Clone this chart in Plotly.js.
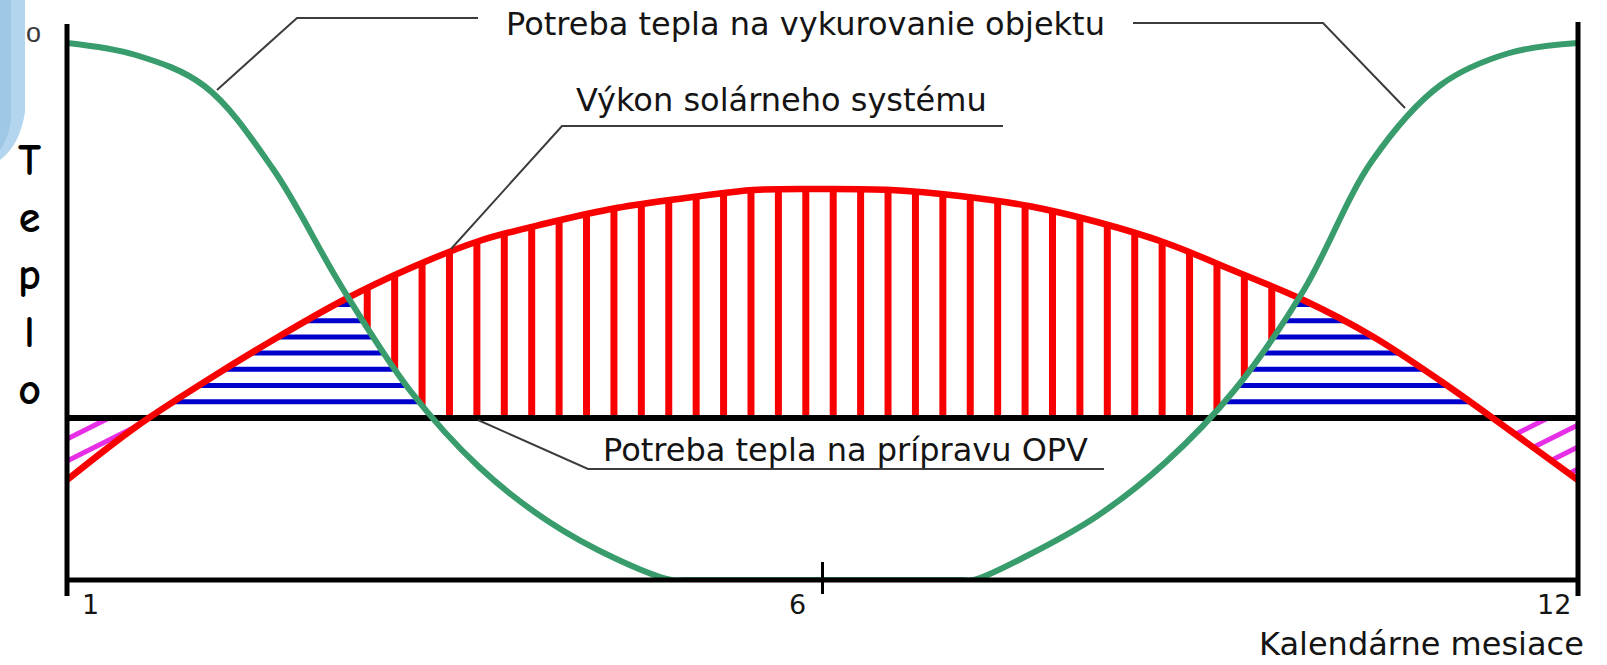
<!DOCTYPE html>
<html>
<head>
<meta charset="utf-8">
<script src="https://cdn.plot.ly/plotly-3.0.1.min.js"></script>
<style>
  html, body { margin: 0; padding: 0; background: #ffffff; }
  #chart { width: 1607px; height: 665px; }
</style>
</head>
<body>
<div id="chart"></div>
<script>
// ---------------- DATA ----------------
const months = [1, 1.5, 2, 2.5, 3, 3.5, 4, 4.5, 5, 5.5, 6, 6.5, 7, 7.5, 8, 8.5, 9, 9.5, 10, 10.5, 11, 11.5, 12];
// Výkon solárneho systému (red)
const solarOutput = [100, 153, 198, 240, 279, 312, 339, 357, 372, 382, 390, 391, 390, 384, 374, 358, 337, 309, 280, 244, 199, 150, 100];
// Potreba tepla na vykurovanie objektu (green)
const heatingMonths = [1, 1.5, 2, 2.5, 3, 3.5, 4, 4.5, 5, 5.4, 5.5, 6, 6.5, 7, 7.5, 7.6, 8, 8.5, 9, 9.5, 10, 10.5, 11, 11.5, 12];
const heatingDemand = [537, 525, 494, 411, 293, 189, 113, 59, 21, 0, 0, 0, 0, 0, 0, 0, 25, 64, 118, 190, 289, 419, 495, 527, 537];
// Potreba tepla na prípravu OPV (black)
const hotWaterMonths = [1, 12];
const hotWaterDemand = [162, 162];
// x-axis ticks
const tickVals = [1, 6.5, 12];
const tickText = ['1', '6', '12'];

// ---------------- GEOMETRY / STYLE ----------------
const W = 1607, H = 665;
const M = { l: 67, r: 29, t: 23, b: 85 };
const PW = W - M.l - M.r;
const PH = H - M.t - M.b;
const X_RANGE = [1, 12];
const Y_RANGE = [0, 557];
const xPix = m => M.l + (m - X_RANGE[0]) / (X_RANGE[1] - X_RANGE[0]) * PW;
const yPix = v => M.t + PH - (v - Y_RANGE[0]) / (Y_RANGE[1] - Y_RANGE[0]) * PH;
const xData = px => X_RANGE[0] + (px - M.l) / PW * (X_RANGE[1] - X_RANGE[0]);
const yData = py => Y_RANGE[0] + (M.t + PH - py) / PH * (Y_RANGE[1] - Y_RANGE[0]);
const xPaper = px => (px - M.l) / PW;
const yPaper = py => (M.t + PH - py) / PH;

const COL = { green: '#389c6c', red: '#f80000', blue: '#0000cc', magenta: '#e62ee6', black: '#000000', text: '#141414', leader: '#3c3c3c' };
const HATCH = { vStep: 27.41, vPhase: 531.7, hStep: 16.2, hPhase: 401.7, dStep: 22, dSlope: 0.5, dLeft: [67, 439], dRight: [1578, 425] };
const tickShift = [23, -25, -24];

// --- reproduce Plotly's spline (centripetal Catmull-Rom, smoothing 1) in pixel space,
//     so that hatch lines end exactly on the drawn curves
function makeTangent(p0, p1, p2, s) {
  const d1x = p0[0] - p1[0], d1y = p0[1] - p1[1], d2x = p2[0] - p1[0], d2y = p2[1] - p1[1];
  const d1a = Math.pow(d1x * d1x + d1y * d1y, 0.25), d2a = Math.pow(d2x * d2x + d2y * d2y, 0.25);
  const nx = (d2a * d2a * d1x - d1a * d1a * d2x) * s, ny = (d2a * d2a * d1y - d1a * d1a * d2y) * s;
  const den1 = 3 * d2a * (d1a + d2a), den2 = 3 * d1a * (d1a + d2a);
  return [[p1[0] + (den1 ? nx / den1 : 0), p1[1] + (den1 ? ny / den1 : 0)],
          [p1[0] - (den2 ? nx / den2 : 0), p1[1] - (den2 ? ny / den2 : 0)]];
}
function bez(seg, t) {
  const u = 1 - t;
  if (seg.length === 3) {
    const [a, c, b] = seg;
    return [u * u * a[0] + 2 * u * t * c[0] + t * t * b[0], u * u * a[1] + 2 * u * t * c[1] + t * t * b[1]];
  }
  const [a, c1, c2, b] = seg;
  return [u * u * u * a[0] + 3 * u * u * t * c1[0] + 3 * u * t * t * c2[0] + t * t * t * b[0],
          u * u * u * a[1] + 3 * u * u * t * c1[1] + 3 * u * t * t * c2[1] + t * t * t * b[1]];
}
function splineSamples(xs, ys) {
  const p = xs.map((x, i) => [xPix(x), yPix(ys[i])]);
  const n = p.length, tan = [];
  for (let i = 1; i < n - 1; i++) tan.push(makeTangent(p[i - 1], p[i], p[i + 1], 1));
  const segs = [[p[0], tan[0][0], p[1]]];
  for (let i = 2; i < n - 1; i++) segs.push([p[i - 1], tan[i - 2][1], tan[i - 1][0], p[i]]);
  segs.push([p[n - 2], tan[n - 3][1], p[n - 1]]);
  const out = [];
  segs.forEach(s => { for (let k = 0; k <= 60; k++) out.push(bez(s, k / 60)); });
  out.sort((a, b) => a[0] - b[0]);
  return out;
}
function yAt(S, px) {
  if (px <= S[0][0]) return S[0][1];
  if (px >= S[S.length - 1][0]) return S[S.length - 1][1];
  let lo = 0, hi = S.length - 1;
  while (hi - lo > 1) { const mid = (lo + hi) >> 1; if (S[mid][0] <= px) lo = mid; else hi = mid; }
  const a = S[lo], b = S[hi];
  return b[0] === a[0] ? a[1] : a[1] + (b[1] - a[1]) * (px - a[0]) / (b[0] - a[0]);
}
function runs(x0, x1, step, test) {
  const out = []; let start = null, prev = null;
  for (let px = x0; px <= x1 + 1e-9; px += step) {
    const ok = test(px);
    if (ok && start === null) start = px;
    if (!ok && start !== null) { out.push([start, prev]); start = null; }
    prev = px;
  }
  if (start !== null) out.push([start, prev]);
  return out;
}

const redS = splineSamples(months, solarOutput);
const greenS = splineSamples(heatingMonths, heatingDemand);
const blackPy = yPix(hotWaterDemand[0]);
const xLeft = M.l, xRight = M.l + PW, xMid = M.l + PW / 2;

// red vertical hatch: solar surplus above max(OPV, heating)
const redHX = [], redHY = [];
for (let px = HATCH.vPhase - Math.floor((HATCH.vPhase - xLeft) / HATCH.vStep) * HATCH.vStep; px <= xRight; px += HATCH.vStep) {
  const top = yAt(redS, px);
  const bottom = Math.min(blackPy, yAt(greenS, px));
  if (top < bottom - 0.5) { redHX.push(xData(px), xData(px), null); redHY.push(yData(bottom), yData(top), null); }
}
// blue horizontal hatch: above OPV, below both solar and heating
const blueHX = [], blueHY = [];
for (let j = 0; j < 40; j++) {
  const py = HATCH.hPhase - j * HATCH.hStep;
  if (py <= M.t) break;
  runs(xLeft, xRight, 0.5, px => py < blackPy && py > yAt(redS, px) && py > yAt(greenS, px)).forEach(([a, b]) => {
    if (b - a < 1) return;
    blueHX.push(xData(a), xData(b), null); blueHY.push(yData(py), yData(py), null);
  });
}
// magenta diagonal hatch: solar below OPV demand
const magHX = [], magHY = [];
[[xLeft, xMid, HATCH.dLeft], [xMid, xRight, HATCH.dRight]].forEach(([xa, xb, anchor]) => {
  for (let k = -30; k <= 30; k++) {
    const line = px => anchor[1] + k * HATCH.dStep - HATCH.dSlope * (px - anchor[0]);
    runs(xa, xb, 0.5, px => { const py = line(px); return py > blackPy && py < yAt(redS, px); }).forEach(([a, b]) => {
      if (b - a < 1) return;
      magHX.push(xData(a), xData(b), null); magHY.push(yData(line(a)), yData(line(b)), null);
    });
  }
});

const traces = [
  { x: redHX, y: redHY, mode: 'lines', line: { color: COL.red, width: 7 }, hoverinfo: 'skip', connectgaps: false },
  { x: blueHX, y: blueHY, mode: 'lines', line: { color: COL.blue, width: 5 }, hoverinfo: 'skip', connectgaps: false },
  { x: magHX, y: magHY, mode: 'lines', line: { color: COL.magenta, width: 5 }, hoverinfo: 'skip', connectgaps: false },
  { x: hotWaterMonths, y: hotWaterDemand, mode: 'lines', name: 'Potreba tepla na prípravu OPV', line: { color: COL.black, width: 6 } },
  { x: months, y: solarOutput, mode: 'lines', name: 'Výkon solárneho systému', line: { color: COL.red, width: 6.5, shape: 'spline', smoothing: 1, simplify: false } },
  { x: heatingMonths, y: heatingDemand, mode: 'lines', name: 'Potreba tepla na vykurovanie objektu', line: { color: COL.green, width: 6, shape: 'spline', smoothing: 1, simplify: false } }
];

const pathP = pts => 'M' + pts.map(p => xPaper(p[0]).toFixed(5) + ',' + yPaper(p[1]).toFixed(5)).join('L');
const leader = pts => ({ type: 'path', xref: 'paper', yref: 'paper', path: pathP(pts), line: { color: COL.leader, width: 2 } });

const shapes = [
  // light blue decoration, top-left corner
  { type: 'path', xref: 'paper', yref: 'paper', layer: 'below', line: { width: 0 }, fillcolor: '#b3d5ed',
    path: pathP([[0, 0], [25, 0], [25, 112]]) + 'Q' + xPaper(20).toFixed(5) + ',' + yPaper(145).toFixed(5) + ' ' + xPaper(0).toFixed(5) + ',' + yPaper(160).toFixed(5) + 'Z' },
  { type: 'path', xref: 'paper', yref: 'paper', layer: 'below', line: { width: 0 }, fillcolor: '#9fc8e6',
    path: pathP([[0, 0], [11, 0], [11, 120]]) + 'Q' + xPaper(8).toFixed(5) + ',' + yPaper(140).toFixed(5) + ' ' + xPaper(0).toFixed(5) + ',' + yPaper(150).toFixed(5) + 'Z' },
  // axes frame
  { type: 'line', xref: 'paper', yref: 'paper', x0: 0, x1: 0, y0: yPaper(596), y1: yPaper(24), line: { color: '#000', width: 5 } },
  { type: 'line', xref: 'paper', yref: 'paper', x0: 1, x1: 1, y0: yPaper(596), y1: yPaper(22), line: { color: '#000', width: 5 } },
  { type: 'line', xref: 'paper', yref: 'paper', x0: 0, x1: 1, y0: 0, y1: 0, line: { color: '#000', width: 5 } },
  { type: 'line', xref: 'x', yref: 'paper', x0: tickVals[1], x1: tickVals[1], y0: 0, y1: yPaper(562), line: { color: '#000', width: 3 } },
  // leader lines
  leader([[217, 90], [297, 18], [478, 18]]),
  leader([[1133, 23], [1323, 23], [1405, 108]]),
  leader([[1003, 126], [562, 126], [451, 249]]),
  leader([[478, 420], [588, 469], [1104, 469]])
];

const labelFont = { family: 'DejaVu Sans, Liberation Sans, sans-serif', size: 32, color: COL.text };
const ann = (text, px, py, extra) => Object.assign({ text: text, xref: 'paper', yref: 'paper', x: xPaper(px), y: yPaper(py),
  xanchor: 'center', yanchor: 'middle', showarrow: false, font: labelFont }, extra || {});

const annotations = [
  ann('Potreba tepla na vykurovanie objektu', 805, 24),
  ann('Výkon solárneho systému', 781, 100),
  ann('Potreba tepla na prípravu OPV', 845, 450),
  ann('Kalendárne mesiace', 1421, 644),
  ann('T<br>e<br>p<br>l<br>o', 29, 275, { font: { family: 'Comic Sans MS, Comic Neue, DejaVu Sans, sans-serif', size: 44, weight: 700, color: '#000' } }),
  ann('o', 33, 33, { font: { family: 'Liberation Sans, Arial, sans-serif', size: 27, color: '#3a3a3a' } })
];
tickVals.forEach((v, i) => annotations.push({
  text: tickText[i], xref: 'x', yref: 'paper', x: v, y: yPaper(604), xshift: tickShift[i],
  xanchor: 'center', yanchor: 'middle', showarrow: false,
  font: { family: 'DejaVu Sans, Liberation Sans, sans-serif', size: 27, color: COL.text }
}));

const layout = {
  width: W, height: H,
  margin: { l: M.l, r: M.r, t: M.t, b: M.b, pad: 0 },
  paper_bgcolor: '#ffffff', plot_bgcolor: '#ffffff',
  showlegend: false,
  xaxis: { range: X_RANGE, showgrid: false, zeroline: false, showline: false, ticks: 'outside',
           tickvals: tickVals, ticktext: tickText, showticklabels: false, ticklen: 13, tickwidth: 3, tickcolor: '#000' },
  yaxis: { range: Y_RANGE, showgrid: false, zeroline: false, showline: false, showticklabels: false, ticks: '' },
  shapes: shapes,
  annotations: annotations
};

Plotly.newPlot('chart', traces, layout, { staticPlot: true, displayModeBar: false });
</script>
</body>
</html>
